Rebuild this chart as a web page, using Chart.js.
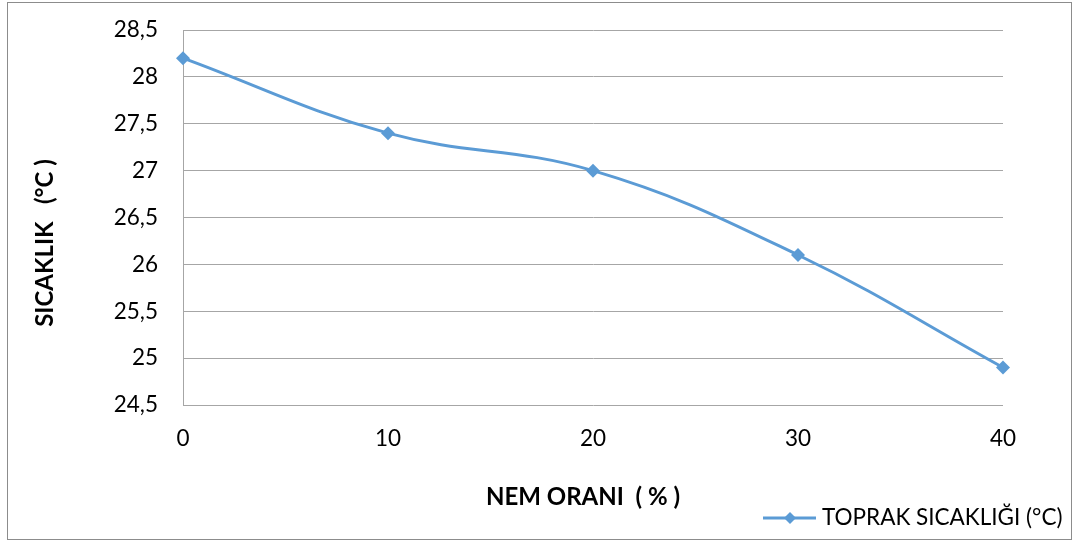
<!DOCTYPE html>
<html>
<head>
<meta charset="utf-8">
<script src="https://cdn.jsdelivr.net/npm/chart.js@4"></script>
<style>
  html, body { margin: 0; padding: 0; background: #fff; }
  #wrap { width: 1073px; height: 541px; position: relative; }
</style>
</head>
<body>
<div id="wrap"><canvas id="c" width="1073" height="541"></canvas></div>
<script>
const categories = ["0", "10", "20", "30", "40"];
const soilTemp = [28.2, 27.4, 27.0, 26.1, 24.9];
const seriesLabel = "TOPRAK SICAKLIĞI (°C)";
const xTitle = "NEM ORANI  ( % )";
const yTitle = "SICAKLIK   (°C )";

const FONT = "Lato, 'Open Sans', 'DejaVu Sans', sans-serif";
const LINE_COLOR = "#5B9BD5";

const decoPlugin = {
  id: 'deco',
  beforeDraw(chart) {
    const ctx = chart.ctx;
    ctx.save();
    ctx.fillStyle = '#fff';
    ctx.fillRect(0, 0, chart.width, chart.height);
    ctx.restore();
  },
  afterDraw(chart) {
    const ctx = chart.ctx;
    ctx.save();
    // outer frame
    ctx.strokeStyle = '#8c8c8c';
    ctx.lineWidth = 1;
    ctx.strokeRect(7.5, 2.5, 1064, 537);
    // y title
    ctx.fillStyle = '#000';
    ctx.font = "bold 24px " + FONT;
    ctx.textAlign = 'center';
    ctx.textBaseline = 'middle';
    ctx.save();
    ctx.translate(45, 243);
    ctx.rotate(-Math.PI / 2);
    ctx.fillText(yTitle, 0, 0);
    ctx.restore();
    // x title
    ctx.fillText(xTitle, 583, 497);
    // legend
    const ly = 518;
    ctx.strokeStyle = LINE_COLOR;
    ctx.lineWidth = 3;
    ctx.beginPath();
    ctx.moveTo(763, ly);
    ctx.lineTo(816, ly);
    ctx.stroke();
    ctx.fillStyle = LINE_COLOR;
    ctx.beginPath();
    ctx.moveTo(790, ly - 6);
    ctx.lineTo(796, ly);
    ctx.lineTo(790, ly + 6);
    ctx.lineTo(784, ly);
    ctx.closePath();
    ctx.fill();
    ctx.fillStyle = '#000';
    ctx.font = "22.5px " + FONT;
    ctx.textAlign = 'left';
    ctx.fillText(chart.data.datasets[0].label, 822, ly);
    ctx.restore();
  }
};

new Chart(document.getElementById('c'), {
  type: 'line',
  data: {
    labels: categories,
    datasets: [{
      label: seriesLabel,
      data: soilTemp,
      borderColor: LINE_COLOR,
      backgroundColor: LINE_COLOR,
      borderWidth: 3,
      tension: 0.4,
      pointStyle: 'rectRot',
      pointRadius: 7,
      pointHoverRadius: 7,
      pointBorderWidth: 0,
      fill: false
    }]
  },
  options: {
    responsive: false,
    animation: false,
    devicePixelRatio: 1,
    layout: { padding: { left: 0, top: 30, right: 70, bottom: 0 } },
    plugins: {
      legend: { display: false },
      tooltip: { enabled: false },
      title: { display: false }
    },
    scales: {
      x: {
        type: 'category',
        offset: false,
        grid: { display: false, drawTicks: false },
        border: { display: false },
        ticks: {
          color: '#000',
          font: { family: FONT, size: 22.5 },
          padding: 20,
          maxRotation: 0
        },
        afterFit(scale) { scale.height = 136; scale.paddingLeft = 0; scale.paddingRight = 0; }
      },
      y: {
        min: 24.5,
        max: 28.5,
        grid: { color: '#a6a6a6', lineWidth: 1, drawTicks: false },
        border: { display: true, color: '#a6a6a6', width: 1 },
        ticks: {
          stepSize: 0.5,
          color: '#000',
          font: { family: FONT, size: 22.5 },
          padding: 25,
          callback: (v) => String(v).replace('.', ',')
        },
        afterFit(scale) { scale.width = 183; scale.paddingTop = 0; scale.paddingBottom = 0; }
      }
    }
  },
  plugins: [decoPlugin]
});
</script>
</body>
</html>
